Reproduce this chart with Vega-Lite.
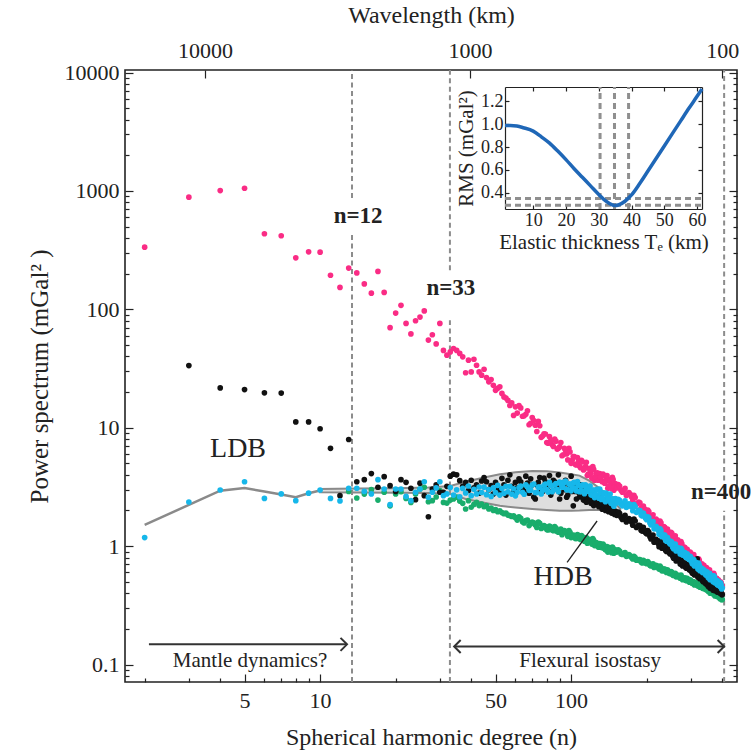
{
"$schema":"https://vega.github.io/schema/vega-lite/v6.json",
"width":612,"height":612,
"autosize":{"type":"none"},
"padding":{"left":125,"top":70,"right":15,"bottom":72},
"background":"white",
"config":{
 "view":{"stroke":"#222","strokeWidth":1.6},
 "axis":{"grid":false,"domain":false,"tickColor":"#222","tickWidth":1.2,"labelFont":"Liberation Serif","titleFont":"Liberation Serif","labelFontSize":22,"titleFontSize":24,"titleFontWeight":"normal","labelColor":"#222","titleColor":"#222","labelFlush":false,"labelOverlap":false},
 "text":{"font":"Liberation Serif","color":"#222"}
},
"datasets":{
"pink":[{"n":2,"p":335},{"n":3,"p":885},{"n":4,"p":1006},{"n":5,"p":1054},{"n":6,"p":435},{"n":7,"p":418},{"n":8,"p":272},{"n":9,"p":306},{"n":10,"p":304},{"n":11,"p":194},{"n":12,"p":153},{"n":13,"p":223},{"n":14,"p":203},{"n":15,"p":164},{"n":16,"p":137},{"n":17,"p":209},{"n":18,"p":139},{"n":19,"p":70},{"n":20,"p":93},{"n":21,"p":108},{"n":22,"p":76},{"n":23,"p":62},{"n":24,"p":80},{"n":25,"p":86},{"n":26,"p":97},{"n":27,"p":55},{"n":28,"p":61},{"n":29,"p":51},{"n":30,"p":76},{"n":31,"p":45},{"n":32,"p":41},{"n":33,"p":43.7},{"n":34,"p":46.7},{"n":35,"p":45},{"n":36,"p":42.4},{"n":37,"p":39.7},{"n":38,"p":29.1},{"n":39,"p":37.2},{"n":40,"p":29.6},{"n":41,"p":37.9},{"n":42,"p":33.7},{"n":43,"p":29.6},{"n":44,"p":27.8},{"n":45,"p":31.2},{"n":46,"p":26.5},{"n":47,"p":24.4},{"n":48,"p":25.5},{"n":49,"p":22.8},{"n":50,"p":20.7},{"n":51,"p":21.5},{"n":52,"p":22.2},{"n":53,"p":19.5},{"n":54,"p":18.2},{"n":55,"p":17.8},{"n":56,"p":17},{"n":57,"p":15.4},{"n":58,"p":16.2},{"n":59,"p":12.7},{"n":60,"p":15},
{"n":62,"p":15.4},{"n":64,"p":12.5},{"n":66,"p":13.0},{"n":68,"p":10.6},{"n":70,"p":12.2},{"n":72,"p":10.5},{"n":74,"p":11.3},{"n":76,"p":8.3},{"n":78,"p":8.9},{"n":80,"p":7.5},{"n":82,"p":8.4},{"n":84,"p":7.2},{"n":86,"p":8.0},{"n":88,"p":6.6},{"n":90,"p":6.9},{"n":92,"p":5.8},{"n":94,"p":6.7},{"n":96,"p":6.0},{"n":98,"p":6.7},{"n":100,"p":5.0},{"n":102,"p":5.7},{"n":104,"p":4.9},{"n":106,"p":5.6},{"n":108,"p":4.75},{"n":110,"p":5.3},{"n":112,"p":4.4},{"n":114,"p":4.7},{"n":116,"p":3.95},{"n":118,"p":4.55},{"n":120,"p":4.1},{"n":122,"p":4.7},{"n":124,"p":3.6},{"n":126,"p":4.1},{"n":128,"p":3.6},{"n":130,"p":4.1},{"n":132,"p":3.6},{"n":134,"p":4.05},{"n":136,"p":3.4},{"n":138,"p":3.63},{"n":140,"p":3.08},{"n":142,"p":3.66},{"n":144,"p":3.33},{"n":146,"p":3.82},{"n":148,"p":2.97},{"n":150,"p":3.38},
{"n":61,"p":13.3},{"n":63,"p":14.7},{"n":65,"p":12.6},{"n":67,"p":13.9},{"n":69,"p":10.9},{"n":71,"p":11.5},{"n":73,"p":9.3},{"n":75,"p":10.4},{"n":77,"p":8.5},{"n":79,"p":8.85},{"n":81,"p":7.4},{"n":83,"p":7.8},{"n":85,"p":6.95},{"n":87,"p":7.7},{"n":89,"p":6.7},{"n":91,"p":7.5},{"n":93,"p":5.9},{"n":95,"p":6.45},{"n":97,"p":5.35},{"n":99,"p":6.25},{"n":101,"p":5.3},{"n":103,"p":5.7},{"n":105,"p":4.85},{"n":107,"p":5.15},{"n":109,"p":4.6},{"n":111,"p":5.15},{"n":113,"p":4.5},{"n":115,"p":5.1},{"n":117,"p":4.05},{"n":119,"p":4.4},{"n":121,"p":3.75},{"n":123,"p":4.45},{"n":125,"p":3.85},{"n":127,"p":4.15},{"n":129,"p":3.6},{"n":131,"p":3.85},{"n":133,"p":3.5},{"n":135,"p":3.95},{"n":137,"p":3.5},{"n":139,"p":3.95},{"n":141,"p":3.2},{"n":143,"p":3.55},{"n":145,"p":3.05},{"n":147,"p":3.65},{"n":149,"p":3.15},
{"n":154,"p":3.31},{"n":158,"p":2.96},{"n":162,"p":2.98},{"n":166,"p":2.68},{"n":170,"p":2.83},{"n":174,"p":2.6},{"n":178,"p":2.69},{"n":182,"p":2.28},{"n":186,"p":2.35},{"n":190,"p":2.11},{"n":194,"p":2.18},{"n":198,"p":1.96},{"n":202,"p":2.02},{"n":206,"p":1.79},{"n":210,"p":1.8},{"n":214,"p":1.61},{"n":218,"p":1.69},{"n":222,"p":1.56},{"n":226,"p":1.63},{"n":230,"p":1.4},{"n":234,"p":1.46},{"n":238,"p":1.32},{"n":242,"p":1.39},{"n":246,"p":1.26},{"n":250,"p":1.31},{"n":254,"p":1.17},{"n":258,"p":1.18},{"n":262,"p":1.06},{"n":266,"p":1.13},{"n":270,"p":1.05},{"n":274,"p":1.09},{"n":278,"p":0.94},{"n":282,"p":0.98},{"n":286,"p":0.89},{"n":290,"p":0.94},{"n":294,"p":0.86},{"n":298,"p":0.89},{"n":302,"p":0.81},{"n":306,"p":0.82},{"n":310,"p":0.74},{"n":314,"p":0.79},{"n":318,"p":0.74},{"n":322,"p":0.78},{"n":326,"p":0.67},{"n":330,"p":0.7},{"n":334,"p":0.65},{"n":338,"p":0.69},{"n":342,"p":0.63},{"n":346,"p":0.66},{"n":350,"p":0.6},{"n":354,"p":0.61},{"n":358,"p":0.55},{"n":362,"p":0.59},{"n":366,"p":0.555},{"n":370,"p":0.59},{"n":374,"p":0.51},{"n":378,"p":0.535},{"n":382,"p":0.49},{"n":386,"p":0.52},{"n":390,"p":0.48},{"n":394,"p":0.5},{"n":398,"p":0.45},{"n":400,"p":0.46},
{"n":152,"p":3.1},{"n":156,"p":3.22},{"n":160,"p":2.85},{"n":164,"p":3.07},{"n":168,"p":2.77},{"n":172,"p":2.74},{"n":176,"p":2.42},{"n":180,"p":2.57},{"n":184,"p":2.3},{"n":188,"p":2.32},{"n":192,"p":2.06},{"n":196,"p":2.07},{"n":200,"p":1.9},{"n":204,"p":1.96},{"n":208,"p":1.72},{"n":212,"p":1.84},{"n":216,"p":1.65},{"n":220,"p":1.64},{"n":224,"p":1.46},{"n":228,"p":1.57},{"n":232,"p":1.42},{"n":236,"p":1.44},{"n":240,"p":1.31},{"n":244,"p":1.32},{"n":248,"p":1.23},{"n":252,"p":1.28},{"n":256,"p":1.13},{"n":260,"p":1.22},{"n":264,"p":1.11},{"n":268,"p":1.1},{"n":272,"p":0.98},{"n":276,"p":1.05},{"n":280,"p":0.95},{"n":284,"p":0.97},{"n":288,"p":0.87},{"n":292,"p":0.9},{"n":296,"p":0.83},{"n":300,"p":0.87},{"n":304,"p":0.78},{"n":308,"p":0.85},{"n":312,"p":0.77},{"n":316,"p":0.78},{"n":320,"p":0.7},{"n":324,"p":0.76},{"n":328,"p":0.69},{"n":332,"p":0.71},{"n":336,"p":0.64},{"n":340,"p":0.66},{"n":344,"p":0.62},{"n":348,"p":0.645},{"n":352,"p":0.58},{"n":356,"p":0.63},{"n":360,"p":0.575},{"n":364,"p":0.58},{"n":368,"p":0.52},{"n":372,"p":0.57},{"n":376,"p":0.52},{"n":380,"p":0.535},{"n":384,"p":0.49},{"n":388,"p":0.5},{"n":392,"p":0.47},{"n":396,"p":0.49}],
"black":[{"n":3,"p":33.5},{"n":4,"p":21.7},{"n":5,"p":21},{"n":6,"p":19.7},{"n":7,"p":19.6},{"n":8,"p":11.2},{"n":9,"p":11.2},{"n":10,"p":9.8},{"n":11,"p":6.7},{"n":12,"p":2.67},{"n":13,"p":7.96},{"n":14,"p":3.5},{"n":15,"p":3.64},{"n":16,"p":4.1},{"n":17,"p":3.14},{"n":18,"p":3.86},{"n":19,"p":3.24},{"n":20,"p":2.9},{"n":21,"p":3.64},{"n":22,"p":3.46},{"n":23,"p":3.08},{"n":24,"p":2.47},{"n":25,"p":3.4},{"n":26,"p":2.67},{"n":27,"p":1.77},{"n":28,"p":3.04},{"n":29,"p":3.3},{"n":30,"p":2.85},{"n":31,"p":2.85},{"n":32,"p":3.2},
{"n":33,"p":3.9},{"n":34,"p":4.05},{"n":35,"p":4.0},{"n":36,"p":3.57},{"n":37,"p":3.2},{"n":38,"p":3.46},{"n":39,"p":2.95},{"n":40,"p":3.6},{"n":41,"p":3.1},{"n":42,"p":3.3},{"n":43,"p":2.8},{"n":44,"p":3.55},{"n":45,"p":3.8},{"n":46,"p":3.5},{"n":47,"p":3.0},{"n":48,"p":3.25},{"n":49,"p":2.75},{"n":50,"p":3.46},{"n":51,"p":3.1},{"n":52,"p":2.9},{"n":53,"p":3.74},{"n":54,"p":3.3},{"n":55,"p":2.7},{"n":56,"p":3.6},{"n":57,"p":4.0},{"n":58,"p":3.2},{"n":59,"p":2.85},{"n":60,"p":3.46},
{"n":62,"p":3.7},{"n":64,"p":3.05},{"n":66,"p":3.9},{"n":68,"p":2.8},{"n":70,"p":3.3},{"n":72,"p":2.5},{"n":74,"p":3.46},{"n":76,"p":3.0},{"n":78,"p":3.75},{"n":80,"p":3.2},{"n":82,"p":3.94},{"n":84,"p":2.9},{"n":86,"p":3.5},{"n":88,"p":3.1},{"n":90,"p":2.5},{"n":92,"p":3.4},{"n":94,"p":3.0},{"n":96,"p":2.59},{"n":98,"p":3.3},{"n":100,"p":3.9},{"n":102,"p":2.19},{"n":104,"p":2.9},{"n":106,"p":3.2},{"n":108,"p":2.6},{"n":110,"p":3.0},{"n":112,"p":2.45},{"n":114,"p":2.9},{"n":116,"p":2.55},{"n":118,"p":2.75},{"n":120,"p":2.3},{"n":122,"p":2.36},{"n":124,"p":2.6},{"n":126,"p":2.25},{"n":128,"p":2.42},{"n":130,"p":2.55},{"n":132,"p":2.2},{"n":134,"p":2.3},{"n":136,"p":2.1},{"n":138,"p":2.25},{"n":140,"p":2.0},{"n":142,"p":2.15},{"n":144,"p":1.98},{"n":146,"p":2.06},{"n":148,"p":1.9},{"n":150,"p":1.98},
{"n":61,"p":3.1},{"n":63,"p":3.5},{"n":65,"p":2.9},{"n":67,"p":3.4},{"n":69,"p":3.7},{"n":71,"p":2.6},{"n":73,"p":3.3},{"n":75,"p":3.8},{"n":77,"p":2.9},{"n":79,"p":3.5},{"n":81,"p":3.2},{"n":83,"p":2.7},{"n":85,"p":3.6},{"n":87,"p":3.3},{"n":89,"p":4.0},{"n":91,"p":2.8},{"n":93,"p":3.2},{"n":95,"p":3.6},{"n":97,"p":2.7},{"n":99,"p":3.1},{"n":101,"p":2.9},{"n":103,"p":3.4},{"n":105,"p":2.5},{"n":107,"p":2.85},{"n":109,"p":3.3},{"n":111,"p":2.6},{"n":113,"p":2.75},{"n":115,"p":2.35},{"n":117,"p":2.65},{"n":119,"p":2.5},{"n":121,"p":2.7},{"n":123,"p":2.2},{"n":125,"p":2.45},{"n":127,"p":2.3},{"n":129,"p":2.15},{"n":131,"p":2.35},{"n":133,"p":2.05},{"n":135,"p":2.25},{"n":137,"p":2.0},{"n":139,"p":2.15},{"n":141,"p":1.95},{"n":143,"p":2.1},{"n":145,"p":1.9},{"n":147,"p":2.0},{"n":149,"p":1.85},
{"n":154,"p":1.94},{"n":158,"p":1.75},{"n":162,"p":1.77},{"n":166,"p":1.6},{"n":170,"p":1.71},{"n":174,"p":1.6},{"n":178,"p":1.69},{"n":182,"p":1.44},{"n":186,"p":1.5},{"n":190,"p":1.36},{"n":194,"p":1.44},{"n":198,"p":1.3},{"n":202,"p":1.35},{"n":206,"p":1.2},{"n":210,"p":1.2},{"n":214,"p":1.08},{"n":218,"p":1.14},{"n":222,"p":1.06},{"n":226,"p":1.11},{"n":230,"p":0.96},{"n":234,"p":1.01},{"n":238,"p":0.92},{"n":242,"p":0.97},{"n":246,"p":0.88},{"n":250,"p":0.91},{"n":254,"p":0.82},{"n":258,"p":0.83},{"n":262,"p":0.75},{"n":266,"p":0.8},{"n":270,"p":0.75},{"n":274,"p":0.79},{"n":278,"p":0.68},{"n":282,"p":0.72},{"n":286,"p":0.66},{"n":290,"p":0.7},{"n":294,"p":0.65},{"n":298,"p":0.68},{"n":302,"p":0.61},{"n":306,"p":0.63},{"n":310,"p":0.57},{"n":314,"p":0.62},{"n":318,"p":0.78},{"n":322,"p":0.62},{"n":326,"p":0.53},{"n":330,"p":0.56},{"n":334,"p":0.51},{"n":338,"p":0.54},{"n":342,"p":0.49},{"n":346,"p":0.51},{"n":350,"p":0.47},{"n":354,"p":0.48},{"n":358,"p":0.44},{"n":362,"p":0.47},{"n":366,"p":0.45},{"n":370,"p":0.48},{"n":374,"p":0.42},{"n":378,"p":0.44},{"n":382,"p":0.41},{"n":386,"p":0.44},{"n":390,"p":0.41},{"n":394,"p":0.43},{"n":398,"p":0.39},{"n":400,"p":0.39},
{"n":152,"p":1.82},{"n":156,"p":1.89},{"n":160,"p":1.68},{"n":164,"p":1.82},{"n":168,"p":1.66},{"n":172,"p":1.67},{"n":176,"p":1.5},{"n":180,"p":1.63},{"n":184,"p":1.47},{"n":188,"p":1.49},{"n":192,"p":1.34},{"n":196,"p":1.36},{"n":200,"p":1.27},{"n":204,"p":1.31},{"n":208,"p":1.15},{"n":212,"p":1.24},{"n":216,"p":1.12},{"n":220,"p":1.11},{"n":224,"p":0.99},{"n":228,"p":1.07},{"n":232,"p":0.98},{"n":236,"p":1.0},{"n":240,"p":0.9},{"n":244,"p":0.92},{"n":248,"p":0.86},{"n":252,"p":0.89},{"n":256,"p":0.79},{"n":260,"p":0.86},{"n":264,"p":0.78},{"n":268,"p":0.785},{"n":272,"p":0.705},{"n":276,"p":0.77},{"n":280,"p":0.7},{"n":284,"p":0.72},{"n":288,"p":0.65},{"n":292,"p":0.68},{"n":296,"p":0.63},{"n":300,"p":0.665},{"n":304,"p":0.59},{"n":308,"p":0.65},{"n":312,"p":0.6},{"n":316,"p":0.61},{"n":320,"p":0.545},{"n":324,"p":0.59},{"n":328,"p":0.54},{"n":332,"p":0.55},{"n":336,"p":0.5},{"n":340,"p":0.515},{"n":344,"p":0.48},{"n":348,"p":0.51},{"n":352,"p":0.456},{"n":356,"p":0.5},{"n":360,"p":0.46},{"n":364,"p":0.467},{"n":368,"p":0.425},{"n":372,"p":0.467},{"n":376,"p":0.43},{"n":380,"p":0.445},{"n":384,"p":0.41},{"n":388,"p":0.42},{"n":392,"p":0.4},{"n":396,"p":0.42}],
"cyan":[{"n":2,"p":1.18},{"n":3,"p":2.36},{"n":4,"p":2.98},{"n":5,"p":3.5},{"n":6,"p":2.53},{"n":7,"p":2.76},{"n":8,"p":2.42},{"n":9,"p":2.8},{"n":10,"p":2.98},{"n":11,"p":2.53},{"n":12,"p":2.41},{"n":13,"p":3.08},{"n":14,"p":3.08},{"n":15,"p":2.9},{"n":16,"p":2.76},{"n":17,"p":3.64},{"n":18,"p":3.04},{"n":19,"p":2.24},{"n":20,"p":3.04},{"n":21,"p":3.04},{"n":22,"p":2.63},{"n":23,"p":2.42},{"n":24,"p":2.85},{"n":25,"p":3.04},{"n":26,"p":3.5},{"n":27,"p":2.59},{"n":28,"p":2.85},{"n":29,"p":3.1},{"n":30,"p":3.5},{"n":31,"p":2.67},{"n":32,"p":2.76},
{"n":33,"p":3.13},{"n":34,"p":2.7},{"n":35,"p":2.99},{"n":36,"p":2.61},{"n":37,"p":3.07},{"n":38,"p":2.81},{"n":39,"p":3.22},{"n":40,"p":2.67},{"n":41,"p":3.02},{"n":42,"p":2.76},{"n":43,"p":3.16},{"n":44,"p":2.84},{"n":45,"p":3.15},{"n":46,"p":2.72},{"n":47,"p":3.01},{"n":48,"p":2.63},{"n":49,"p":3.1},{"n":50,"p":2.83},{"n":51,"p":3.26},{"n":52,"p":2.7},{"n":53,"p":3.06},{"n":54,"p":2.79},{"n":55,"p":3.2},{"n":56,"p":2.88},{"n":57,"p":3.2},{"n":58,"p":2.75},{"n":59,"p":3.05},{"n":60,"p":2.66},
{"n":62,"p":3.12},{"n":64,"p":2.85},{"n":66,"p":3.29},{"n":68,"p":2.96},{"n":70,"p":3.28},{"n":72,"p":2.84},{"n":74,"p":3.15},{"n":76,"p":2.76},{"n":78,"p":3.26},{"n":80,"p":3.0},{"n":82,"p":3.46},{"n":84,"p":2.88},{"n":86,"p":3.28},{"n":88,"p":3.01},{"n":90,"p":3.47},{"n":92,"p":3.14},{"n":94,"p":3.47},{"n":96,"p":3.0},{"n":98,"p":3.34},{"n":100,"p":2.93},{"n":102,"p":3.41},{"n":104,"p":3.09},{"n":106,"p":3.51},{"n":108,"p":2.88},{"n":110,"p":3.22},{"n":112,"p":2.91},{"n":114,"p":3.29},{"n":116,"p":2.93},{"n":118,"p":3.19},{"n":120,"p":2.72},{"n":122,"p":2.98},{"n":124,"p":2.57},{"n":126,"p":2.99},{"n":128,"p":2.7},{"n":130,"p":3.04},{"n":132,"p":2.48},{"n":134,"p":2.77},{"n":136,"p":2.49},{"n":138,"p":2.81},{"n":140,"p":2.5},{"n":142,"p":2.71},{"n":144,"p":2.31},{"n":146,"p":2.51},{"n":148,"p":2.17},{"n":150,"p":2.52},
{"n":61,"p":2.85},{"n":63,"p":3.21},{"n":65,"p":2.74},{"n":67,"p":3.17},{"n":69,"p":2.97},{"n":71,"p":3.34},{"n":73,"p":2.84},{"n":75,"p":3.15},{"n":77,"p":2.95},{"n":79,"p":3.34},{"n":81,"p":2.86},{"n":83,"p":3.24},{"n":85,"p":2.98},{"n":87,"p":3.38},{"n":89,"p":2.88},{"n":91,"p":3.35},{"n":93,"p":3.14},{"n":95,"p":3.54},{"n":97,"p":3.0},{"n":99,"p":3.34},{"n":101,"p":3.1},{"n":103,"p":3.46},{"n":105,"p":2.92},{"n":107,"p":3.27},{"n":109,"p":2.95},{"n":111,"p":3.3},{"n":113,"p":2.77},{"n":115,"p":3.15},{"n":117,"p":2.91},{"n":119,"p":3.22},{"n":121,"p":2.7},{"n":123,"p":2.96},{"n":125,"p":2.73},{"n":127,"p":3.02},{"n":129,"p":2.54},{"n":131,"p":2.83},{"n":133,"p":2.55},{"n":135,"p":2.82},{"n":137,"p":2.37},{"n":139,"p":2.69},{"n":141,"p":2.48},{"n":143,"p":2.75},{"n":145,"p":2.29},{"n":147,"p":2.49},{"n":149,"p":2.29},
{"n":154,"p":2.49},{"n":158,"p":2.26},{"n":162,"p":2.31},{"n":166,"p":2.12},{"n":170,"p":2.28},{"n":174,"p":2.14},{"n":178,"p":2.24},{"n":182,"p":1.93},{"n":186,"p":2.01},{"n":190,"p":1.83},{"n":194,"p":1.9},{"n":198,"p":1.72},{"n":202,"p":1.77},{"n":206,"p":1.57},{"n":210,"p":1.57},{"n":214,"p":1.4},{"n":218,"p":1.47},{"n":222,"p":1.36},{"n":226,"p":1.4},{"n":230,"p":1.2},{"n":234,"p":1.24},{"n":238,"p":1.12},{"n":242,"p":1.18},{"n":246,"p":1.07},{"n":250,"p":1.1},{"n":254,"p":0.98},{"n":258,"p":1.0},{"n":262,"p":0.91},{"n":266,"p":0.97},{"n":270,"p":0.91},{"n":274,"p":0.96},{"n":278,"p":0.84},{"n":282,"p":0.88},{"n":286,"p":0.81},{"n":290,"p":0.86},{"n":294,"p":0.78},{"n":298,"p":0.82},{"n":302,"p":0.74},{"n":306,"p":0.75},{"n":310,"p":0.68},{"n":314,"p":0.73},{"n":318,"p":0.68},{"n":322,"p":0.72},{"n":326,"p":0.62},{"n":330,"p":0.65},{"n":334,"p":0.6},{"n":338,"p":0.63},{"n":342,"p":0.59},{"n":346,"p":0.61},{"n":350,"p":0.56},{"n":354,"p":0.57},{"n":358,"p":0.52},{"n":362,"p":0.56},{"n":366,"p":0.53},{"n":370,"p":0.56},{"n":374,"p":0.49},{"n":378,"p":0.515},{"n":382,"p":0.475},{"n":386,"p":0.505},{"n":390,"p":0.465},{"n":394,"p":0.49},{"n":398,"p":0.435},{"n":400,"p":0.445},
{"n":152,"p":2.32},{"n":156,"p":2.44},{"n":160,"p":2.19},{"n":164,"p":2.41},{"n":168,"p":2.21},{"n":172,"p":2.23},{"n":176,"p":1.99},{"n":180,"p":2.16},{"n":184,"p":1.96},{"n":188,"p":2.0},{"n":192,"p":1.8},{"n":196,"p":1.81},{"n":200,"p":1.67},{"n":204,"p":1.73},{"n":208,"p":1.51},{"n":212,"p":1.61},{"n":216,"p":1.45},{"n":220,"p":1.43},{"n":224,"p":1.26},{"n":228,"p":1.35},{"n":232,"p":1.22},{"n":236,"p":1.24},{"n":240,"p":1.1},{"n":244,"p":1.12},{"n":248,"p":1.04},{"n":252,"p":1.07},{"n":256,"p":0.95},{"n":260,"p":1.04},{"n":264,"p":0.95},{"n":268,"p":0.95},{"n":272,"p":0.86},{"n":276,"p":0.93},{"n":280,"p":0.85},{"n":284,"p":0.88},{"n":288,"p":0.8},{"n":292,"p":0.82},{"n":296,"p":0.77},{"n":300,"p":0.8},{"n":304,"p":0.71},{"n":308,"p":0.77},{"n":312,"p":0.7},{"n":316,"p":0.71},{"n":320,"p":0.64},{"n":324,"p":0.69},{"n":328,"p":0.63},{"n":332,"p":0.65},{"n":336,"p":0.6},{"n":340,"p":0.61},{"n":344,"p":0.57},{"n":348,"p":0.6},{"n":352,"p":0.54},{"n":356,"p":0.59},{"n":360,"p":0.545},{"n":364,"p":0.55},{"n":368,"p":0.5},{"n":372,"p":0.55},{"n":376,"p":0.5},{"n":380,"p":0.515},{"n":384,"p":0.47},{"n":388,"p":0.485},{"n":392,"p":0.455},{"n":396,"p":0.47}],
"green":[{"n":13,"p":2.9},{"n":14,"p":2.55},{"n":15,"p":2.75},{"n":16,"p":3.0},{"n":17,"p":2.45},{"n":18,"p":2.85},{"n":19,"p":2.19},{"n":20,"p":2.76},{"n":21,"p":2.88},{"n":22,"p":2.53},{"n":23,"p":2.34},{"n":24,"p":2.76},{"n":25,"p":3.04},{"n":26,"p":3.14},{"n":27,"p":2.37},{"n":28,"p":2.42},{"n":29,"p":2.6},{"n":30,"p":2.94},{"n":31,"p":2.34},{"n":32,"p":2.31},
{"n":33,"p":2.45},{"n":34,"p":2.5},{"n":35,"p":2.59},{"n":36,"p":2.4},{"n":37,"p":2.3},{"n":38,"p":2.06},{"n":39,"p":2.42},{"n":40,"p":2.13},{"n":41,"p":2.25},{"n":42,"p":2.34},{"n":43,"p":2.2},{"n":44,"p":2.27},{"n":45,"p":2.15},{"n":46,"p":2.2},{"n":47,"p":2.06},{"n":48,"p":2.1},{"n":49,"p":2.0},{"n":50,"p":2.04},{"n":51,"p":1.95},{"n":52,"p":1.99},{"n":53,"p":1.92},{"n":54,"p":1.88},{"n":55,"p":1.9},{"n":56,"p":1.83},{"n":57,"p":1.81},{"n":58,"p":1.78},{"n":59,"p":1.8},{"n":60,"p":1.74},
{"n":62,"p":1.77},{"n":64,"p":1.61},{"n":66,"p":1.64},{"n":68,"p":1.49},{"n":70,"p":1.6},{"n":72,"p":1.51},{"n":74,"p":1.6},{"n":76,"p":1.41},{"n":78,"p":1.49},{"n":80,"p":1.38},{"n":82,"p":1.48},{"n":84,"p":1.37},{"n":86,"p":1.46},{"n":88,"p":1.33},{"n":90,"p":1.36},{"n":92,"p":1.25},{"n":94,"p":1.35},{"n":96,"p":1.28},{"n":98,"p":1.35},{"n":100,"p":1.18},{"n":102,"p":1.24},{"n":104,"p":1.16},{"n":106,"p":1.25},{"n":108,"p":1.16},{"n":110,"p":1.23},{"n":112,"p":1.13},{"n":114,"p":1.15},{"n":116,"p":1.06},{"n":118,"p":1.14},{"n":120,"p":1.09},{"n":122,"p":1.16},{"n":124,"p":1.01},{"n":126,"p":1.07},{"n":128,"p":0.99},{"n":130,"p":1.05},{"n":132,"p":0.98},{"n":134,"p":1.04},{"n":136,"p":0.95},{"n":138,"p":0.97},{"n":140,"p":0.89},{"n":142,"p":0.97},{"n":144,"p":0.92},{"n":146,"p":0.98},{"n":148,"p":0.87},{"n":150,"p":0.93},
{"n":61,"p":1.66},{"n":63,"p":1.72},{"n":65,"p":1.57},{"n":67,"p":1.66},{"n":69,"p":1.55},{"n":71,"p":1.57},{"n":73,"p":1.44},{"n":75,"p":1.56},{"n":77,"p":1.44},{"n":79,"p":1.46},{"n":81,"p":1.37},{"n":83,"p":1.45},{"n":85,"p":1.35},{"n":87,"p":1.42},{"n":89,"p":1.31},{"n":91,"p":1.39},{"n":93,"p":1.31},{"n":95,"p":1.33},{"n":97,"p":1.21},{"n":99,"p":1.31},{"n":101,"p":1.21},{"n":103,"p":1.23},{"n":105,"p":1.16},{"n":107,"p":1.23},{"n":109,"p":1.14},{"n":111,"p":1.2},{"n":113,"p":1.1},{"n":115,"p":1.18},{"n":117,"p":1.11},{"n":119,"p":1.13},{"n":121,"p":1.04},{"n":123,"p":1.12},{"n":125,"p":1.03},{"n":127,"p":1.05},{"n":129,"p":0.98},{"n":131,"p":1.04},{"n":133,"p":0.97},{"n":135,"p":1.01},{"n":137,"p":0.93},{"n":139,"p":0.99},{"n":141,"p":0.94},{"n":143,"p":0.95},{"n":145,"p":0.88},{"n":147,"p":0.96},{"n":149,"p":0.89},
{"n":154,"p":0.93},{"n":158,"p":0.86},{"n":162,"p":0.87},{"n":166,"p":0.82},{"n":170,"p":0.85},{"n":174,"p":0.8},{"n":178,"p":0.82},{"n":182,"p":0.76},{"n":186,"p":0.77},{"n":190,"p":0.735},{"n":194,"p":0.76},{"n":198,"p":0.72},{"n":202,"p":0.74},{"n":206,"p":0.69},{"n":210,"p":0.7},{"n":214,"p":0.66},{"n":218,"p":0.69},{"n":222,"p":0.66},{"n":226,"p":0.68},{"n":230,"p":0.62},{"n":234,"p":0.64},{"n":238,"p":0.61},{"n":242,"p":0.63},{"n":246,"p":0.59},{"n":250,"p":0.61},{"n":254,"p":0.57},{"n":258,"p":0.58},{"n":262,"p":0.55},{"n":266,"p":0.57},{"n":270,"p":0.545},{"n":274,"p":0.57},{"n":278,"p":0.52},{"n":282,"p":0.535},{"n":286,"p":0.515},{"n":290,"p":0.535},{"n":294,"p":0.505},{"n":298,"p":0.52},{"n":302,"p":0.49},{"n":306,"p":0.5},{"n":310,"p":0.47},{"n":314,"p":0.49},{"n":318,"p":0.47},{"n":322,"p":0.49},{"n":326,"p":0.45},{"n":330,"p":0.46},{"n":334,"p":0.44},{"n":338,"p":0.46},{"n":342,"p":0.435},{"n":346,"p":0.45},{"n":350,"p":0.42},{"n":354,"p":0.43},{"n":358,"p":0.4},{"n":362,"p":0.42},{"n":366,"p":0.4},{"n":370,"p":0.42},{"n":374,"p":0.38},{"n":378,"p":0.39},{"n":382,"p":0.376},{"n":386,"p":0.39},{"n":390,"p":0.368},{"n":394,"p":0.377},{"n":398,"p":0.353},{"n":400,"p":0.355},
{"n":152,"p":0.89},{"n":156,"p":0.91},{"n":160,"p":0.85},{"n":164,"p":0.88},{"n":168,"p":0.83},{"n":172,"p":0.83},{"n":176,"p":0.78},{"n":180,"p":0.8},{"n":184,"p":0.76},{"n":188,"p":0.77},{"n":192,"p":0.72},{"n":196,"p":0.74},{"n":200,"p":0.71},{"n":204,"p":0.72},{"n":208,"p":0.68},{"n":212,"p":0.71},{"n":216,"p":0.67},{"n":220,"p":0.68},{"n":224,"p":0.64},{"n":228,"p":0.66},{"n":232,"p":0.62},{"n":236,"p":0.64},{"n":240,"p":0.6},{"n":244,"p":0.61},{"n":248,"p":0.585},{"n":252,"p":0.6},{"n":256,"p":0.565},{"n":260,"p":0.59},{"n":264,"p":0.56},{"n":268,"p":0.56},{"n":272,"p":0.535},{"n":276,"p":0.55},{"n":280,"p":0.525},{"n":284,"p":0.54},{"n":288,"p":0.51},{"n":292,"p":0.52},{"n":296,"p":0.495},{"n":300,"p":0.51},{"n":304,"p":0.485},{"n":308,"p":0.5},{"n":312,"p":0.48},{"n":316,"p":0.485},{"n":320,"p":0.46},{"n":324,"p":0.475},{"n":328,"p":0.455},{"n":332,"p":0.46},{"n":336,"p":0.44},{"n":340,"p":0.45},{"n":344,"p":0.43},{"n":348,"p":0.44},{"n":352,"p":0.415},{"n":356,"p":0.425},{"n":360,"p":0.405},{"n":364,"p":0.41},{"n":368,"p":0.395},{"n":372,"p":0.4},{"n":376,"p":0.385},{"n":380,"p":0.39},{"n":384,"p":0.375},{"n":388,"p":0.38},{"n":392,"p":0.36},{"n":396,"p":0.37}],
"band":[{"n":10,"lo":2.85,"hi":3.04},{"n":14,"lo":2.84,"hi":3.06},{"n":20,"lo":2.83,"hi":3.08},{"n":27,"lo":2.81,"hi":3.12},{"n":33,"lo":2.76,"hi":3.22},{"n":38,"lo":2.5,"hi":3.5},{"n":45,"lo":2.32,"hi":3.8},{"n":52,"lo":2.19,"hi":4.05},{"n":60,"lo":2.12,"hi":4.2},{"n":70,"lo":2.06,"hi":4.3},{"n":80,"lo":2.02,"hi":4.28},{"n":90,"lo":1.99,"hi":4.18},{"n":100,"lo":1.99,"hi":4.05},{"n":108,"lo":2.0,"hi":3.94},{"n":118,"lo":2.02,"hi":3.57},{"n":131,"lo":2.03,"hi":3.04},{"n":147,"lo":1.93,"hi":2.42},{"n":157,"lo":1.97,"hi":2.06}],
"model":[{"n":2,"p":1.51},{"n":3,"p":2.23},{"n":4,"p":2.94},{"n":5,"p":3.1},{"n":6,"p":2.89},{"n":7,"p":2.73},{"n":8,"p":2.59},{"n":9,"p":2.8},{"n":10,"p":2.95}],
"vlines":[{"n":13.4,"p1":0.0712,"p2":432},{"n":13.4,"p1":872,"p2":10500},{"n":32.9,"p1":0.0712,"p2":80.7},{"n":32.9,"p1":214,"p2":10500},{"n":407,"p1":0.0712,"p2":1.99},{"n":407,"p1":3.58,"p2":10500}],
"arrows":[{"n1":2.08,"n2":12.8,"p":0.148},{"n1":34.2,"n2":407,"p":0.142}],
"headsR":[{"n":12.8,"p":0.148},{"n":407,"p":0.142}],
"headsL":[{"n":34.2,"p":0.142}],
"tbold":[{"n":14.17,"p":614,"t":"n=12"},{"n":33.2,"p":150.6,"t":"n=33"},{"n":396,"p":2.87,"t":"n=400"}],
"tbig":[{"n":4.71,"p":6.64,"t":"LDB"},{"n":92.9,"p":0.546,"t":"HDB"}],
"tnorm":[{"n":5.26,"p":0.108,"t":"Mantle dynamics?"},{"n":119,"p":0.108,"t":"Flexural isostasy"}],
"leader":[{"n1":96.4,"n2":126.9,"p1":0.73,"p2":1.63}],
"rms":[{"t":1.4,"r":0.99},{"t":3,"r":0.99},{"t":5,"r":0.985},{"t":7,"r":0.97},{"t":10,"r":0.94},{"t":12.5,"r":0.89},{"t":15,"r":0.835},{"t":17.5,"r":0.765},{"t":20,"r":0.69},{"t":22.5,"r":0.61},{"t":25,"r":0.535},{"t":27.5,"r":0.46},{"t":30,"r":0.385},{"t":32,"r":0.33},{"t":34,"r":0.295},{"t":35,"r":0.287},{"t":36,"r":0.292},{"t":38,"r":0.325},{"t":40,"r":0.38},{"t":42.5,"r":0.48},{"t":45,"r":0.59},{"t":47.5,"r":0.7},{"t":50,"r":0.81},{"t":52.5,"r":0.92},{"t":55,"r":1.03},{"t":57.5,"r":1.14},{"t":60,"r":1.245},{"t":61.5,"r":1.31}],
"ivl":[{"t":30.4},{"t":34.8},{"t":39.1}],
"ihl":[{"r":0.348},{"r":0.289}]
},
"layer":[
{"layer":[
 {"data":{"name":"band"},"mark":{"type":"area","fill":"#dedede","stroke":"#8a8a8a","strokeWidth":2},
  "encoding":{"x":{"field":"n","type":"quantitative","scale":{"type":"log","domain":[1.67,458],"nice":false},"axis":null},
   "y":{"field":"lo","type":"quantitative","scale":{"type":"log","domain":[0.0712,10500],"nice":false},"axis":null},"y2":{"field":"hi"}}},
 {"data":{"name":"model"},"mark":{"type":"line","color":"#8a8a8a","strokeWidth":2.5},
  "encoding":{"x":{"field":"n","type":"quantitative","scale":{"type":"log","domain":[1.67,458],"nice":false},"axis":null},
   "y":{"field":"p","type":"quantitative","scale":{"type":"log","domain":[0.0712,10500],"nice":false},"axis":null}}},
 {"data":{"name":"vlines"},"mark":{"type":"rule","color":"#8c8c8c","strokeWidth":2,"strokeDash":[5,3.5]},
  "encoding":{"x":{"field":"n","type":"quantitative","scale":{"type":"log","domain":[1.67,458],"nice":false},"axis":null},
   "y":{"field":"p1","type":"quantitative","scale":{"type":"log","domain":[0.0712,10500],"nice":false},"axis":null},"y2":{"field":"p2"}}},
 {"data":{"name":"pink"},"mark":{"type":"circle","color":"#fa2c85","size":32,"opacity":1},
  "encoding":{"x":{"field":"n","type":"quantitative","scale":{"type":"log","domain":[1.67,458],"nice":false},
     "axis":{"orient":"bottom","values":[5,10,50,100],"format":"~g","tickSize":-8,"labelPadding":16,"title":"Spherical harmonic degree (n)","titlePadding":14}},
   "y":{"field":"p","type":"quantitative","scale":{"type":"log","domain":[0.0712,10500],"nice":false},
     "axis":{"orient":"left","values":[0.1,1,10,100,1000,10000],"format":"~g","tickSize":-8,"labelPadding":14,"title":"Power spectrum (mGal² )","titleFontSize":25,"titlePadding":12}}}},
 {"data":{"name":"green"},"mark":{"type":"circle","color":"#19ad6c","size":32,"opacity":1},
  "encoding":{"x":{"field":"n","type":"quantitative","scale":{"type":"log","domain":[1.67,458],"nice":false},
     "axis":{"orient":"bottom","values":[2,3,4,6,7,8,9,20,30,40,60,70,80,90,200,300,400],"tickSize":-4,"labels":false,"title":null}},
   "y":{"field":"p","type":"quantitative","scale":{"type":"log","domain":[0.0712,10500],"nice":false},
     "axis":{"orient":"left","values":[0.08,0.09,0.2,0.3,0.4,0.5,0.6,0.7,0.8,0.9,2,3,4,5,6,7,8,9,20,30,40,50,60,70,80,90,200,300,400,500,600,700,800,900,2000,3000,4000,5000,6000,7000,8000,9000],"tickSize":-4,"labels":false,"title":null}}}},
 {"data":{"name":"black"},"mark":{"type":"circle","color":"#111111","size":32,"opacity":1},
  "encoding":{"x":{"field":"n","type":"quantitative","scale":{"type":"log","domain":[1.67,458],"nice":false},
     "axis":{"orient":"top","values":[3.48,39.53,399.8],"labelExpr":"datum.value < 10 ? '10000' : datum.value < 100 ? '1000' : '100'","tickSize":-8,"labelPadding":16,"title":"Wavelength (km)","titlePadding":12}},
   "y":{"field":"p","type":"quantitative","scale":{"type":"log","domain":[0.0712,10500],"nice":false},
     "axis":{"orient":"right","values":[0.1,1,10,100,1000,10000],"tickSize":-8,"labels":false,"title":null}}}},
 {"data":{"name":"cyan"},"mark":{"type":"circle","color":"#16b7ea","size":32,"opacity":1},
  "encoding":{"x":{"field":"n","type":"quantitative","scale":{"type":"log","domain":[1.67,458],"nice":false},"axis":null},
   "y":{"field":"p","type":"quantitative","scale":{"type":"log","domain":[0.0712,10500],"nice":false},
     "axis":{"orient":"right","values":[0.08,0.09,0.2,0.3,0.4,0.5,0.6,0.7,0.8,0.9,2,3,4,5,6,7,8,9,20,30,40,50,60,70,80,90,200,300,400,500,600,700,800,900,2000,3000,4000,5000,6000,7000,8000,9000],"tickSize":-4,"labels":false,"title":null}}}},
 {"data":{"name":"arrows"},"mark":{"type":"rule","color":"#333","strokeWidth":2},
  "encoding":{"x":{"field":"n1","type":"quantitative","scale":{"type":"log","domain":[1.67,458],"nice":false},"axis":null},"x2":{"field":"n2"},
   "y":{"field":"p","type":"quantitative","scale":{"type":"log","domain":[0.0712,10500],"nice":false},"axis":null}}},
 {"data":{"name":"headsR"},"mark":{"type":"point","shape":"M-1,-1L0,0L-1,1","filled":false,"stroke":"#333","strokeWidth":2,"size":170,"opacity":1},
  "encoding":{"x":{"field":"n","type":"quantitative","scale":{"type":"log","domain":[1.67,458],"nice":false},"axis":null},
   "y":{"field":"p","type":"quantitative","scale":{"type":"log","domain":[0.0712,10500],"nice":false},"axis":null}}},
 {"data":{"name":"headsL"},"mark":{"type":"point","shape":"M1,-1L0,0L1,1","filled":false,"stroke":"#333","strokeWidth":2,"size":170,"opacity":1},
  "encoding":{"x":{"field":"n","type":"quantitative","scale":{"type":"log","domain":[1.67,458],"nice":false},"axis":null},
   "y":{"field":"p","type":"quantitative","scale":{"type":"log","domain":[0.0712,10500],"nice":false},"axis":null}}},
 {"data":{"name":"leader"},"mark":{"type":"rule","color":"#222","strokeWidth":1.3},
  "encoding":{"x":{"field":"n1","type":"quantitative","scale":{"type":"log","domain":[1.67,458],"nice":false},"axis":null},"x2":{"field":"n2"},
   "y":{"field":"p1","type":"quantitative","scale":{"type":"log","domain":[0.0712,10500],"nice":false},"axis":null},"y2":{"field":"p2"}}},
 {"data":{"name":"tbold"},"mark":{"type":"text","fontSize":23,"fontWeight":"bold","baseline":"middle","align":"center","font":"Liberation Serif","color":"#222"},
  "encoding":{"x":{"field":"n","type":"quantitative","scale":{"type":"log","domain":[1.67,458],"nice":false},"axis":null},
   "y":{"field":"p","type":"quantitative","scale":{"type":"log","domain":[0.0712,10500],"nice":false},"axis":null},"text":{"field":"t"}}},
 {"data":{"name":"tbig"},"mark":{"type":"text","fontSize":28,"baseline":"middle","align":"center","font":"Liberation Serif","color":"#222"},
  "encoding":{"x":{"field":"n","type":"quantitative","scale":{"type":"log","domain":[1.67,458],"nice":false},"axis":null},
   "y":{"field":"p","type":"quantitative","scale":{"type":"log","domain":[0.0712,10500],"nice":false},"axis":null},"text":{"field":"t"}}},
 {"data":{"name":"tnorm"},"mark":{"type":"text","fontSize":21,"baseline":"middle","align":"center","font":"Liberation Serif","color":"#222"},
  "encoding":{"x":{"field":"n","type":"quantitative","scale":{"type":"log","domain":[1.67,458],"nice":false},"axis":null},
   "y":{"field":"p","type":"quantitative","scale":{"type":"log","domain":[0.0712,10500],"nice":false},"axis":null},"text":{"field":"t"}}}
 ],
 "resolve":{"axis":{"x":"independent","y":"independent"}}
},
{"layer":[
 {"data":{"name":"ivl"},"mark":{"type":"rule","color":"#8f8f8f","strokeWidth":3,"strokeDash":[6,4]},
  "encoding":{"x":{"field":"t","type":"quantitative","scale":{"domain":[1.4,61.5],"range":[380,577],"nice":false,"zero":false},"axis":null},
   "y":{"datum":0.257,"type":"quantitative","scale":{"domain":[0.257,1.327],"range":[139,17],"nice":false,"zero":false},"axis":null},"y2":{"datum":1.327}}},
 {"data":{"name":"ihl"},"mark":{"type":"rule","color":"#8f8f8f","strokeWidth":3,"strokeDash":[6,4]},
  "encoding":{"x":{"datum":1.4,"type":"quantitative","scale":{"domain":[1.4,61.5],"range":[380,577],"nice":false,"zero":false},"axis":null},"x2":{"datum":61.5},
   "y":{"field":"r","type":"quantitative","scale":{"domain":[0.257,1.327],"range":[139,17],"nice":false,"zero":false},"axis":null}}},
 {"data":{"name":"rms"},"mark":{"type":"line","color":"#1f67b7","strokeWidth":3.5,"interpolate":"monotone"},
  "encoding":{"x":{"field":"t","type":"quantitative","scale":{"domain":[1.4,61.5],"range":[380,577],"nice":false,"zero":false},
     "axis":{"orient":"bottom","offset":-473,"values":[10,20,30,40,50,60],"tickSize":-4,"labelPadding":6,"labelFontSize":18,"title":"Elastic thickness Tₑ (km)","titleFontSize":21,"titlePadding":2,"domain":true,"domainColor":"#222","domainWidth":1.2}},
   "y":{"field":"r","type":"quantitative","scale":{"domain":[0.257,1.327],"range":[139,17],"nice":false,"zero":false},
     "axis":{"orient":"left","offset":-380,"values":[0.4,0.6,0.8,1.0,1.2],"format":".1f","tickSize":-4,"labelPadding":6,"labelFontSize":18,"title":"RMS (mGal²)","titleFontSize":21,"titlePadding":4,"domain":true,"domainColor":"#222","domainWidth":1.2}}}},
 {"data":{"name":"rms"},"mark":{"type":"line","strokeOpacity":0},
  "encoding":{"x":{"field":"t","type":"quantitative","scale":{"domain":[1.4,61.5],"range":[380,577],"nice":false,"zero":false},
     "axis":{"orient":"top","offset":-17,"values":[10,20,30,40,50,60],"tickSize":-4,"labels":false,"title":null,"domain":true,"domainColor":"#222","domainWidth":1.2}},
   "y":{"field":"r","type":"quantitative","scale":{"domain":[0.257,1.327],"range":[139,17],"nice":false,"zero":false},
     "axis":{"orient":"right","offset":-35,"values":[0.4,0.6,0.8,1.0,1.2],"tickSize":-4,"labels":false,"title":null,"domain":true,"domainColor":"#222","domainWidth":1.2}}}}
 ],
 "resolve":{"axis":{"x":"independent","y":"independent"}}
}
],
"resolve":{"scale":{"x":"independent","y":"independent"}}
}
